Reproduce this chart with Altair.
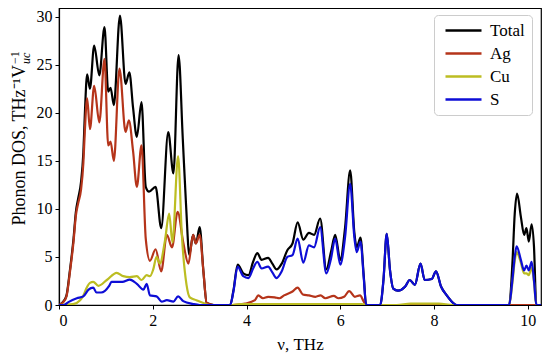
import altair as alt
import pandas as pd

# ---------------- data ----------------
series_names = ["Total", "Ag", "Cu", "S"]
series_colors = ["#000000", "#b5341a", "#bcbd22", "#0d0dd6"]

total_freq = [0, 0.09, 0.16, 0.23, 0.31, 0.36, 0.41, 0.47, 0.52, 0.55, 0.60, 0.66, 0.75, 0.86, 0.97,
              1.05, 1.10, 1.17, 1.30, 1.42, 1.50, 1.58, 1.66, 1.76, 1.85, 1.92, 2.06, 2.18, 2.33, 2.44,
              2.55, 2.64, 2.71, 2.78, 2.86, 2.92, 3.00, 3.08, 3.15, 3.30, 3.65, 3.72, 3.81, 3.93, 4.04,
              4.14, 4.23, 4.32, 4.46, 4.55, 4.64, 4.75, 4.87, 4.98, 5.09, 5.21, 5.33, 5.44, 5.57, 5.70,
              5.80, 5.89, 6.00, 6.10, 6.21, 6.30, 6.35, 6.43, 6.50, 6.55, 6.85, 6.92, 6.99, 7.06, 7.13,
              7.23, 7.38, 7.48, 7.59, 7.71, 7.80, 7.95, 8.04, 8.15, 8.27, 8.41, 8.48, 9.60, 9.67, 9.72,
              9.77, 9.85, 9.92, 9.97, 10.02, 10.08, 10.13, 10.18, 10.28]
total_dos = [0, 0.35, 1.0, 3.5, 6.9, 9.7, 11.1, 12.8, 15.9, 19.7, 24.0, 22.5, 27.0, 23.9, 28.9,
             22.2, 22.6, 20.8, 30.1, 23.0, 24.2, 20.5, 17.5, 21.1, 12.3, 11.8, 12.3, 8.0, 18.0, 13.7,
             26.0, 17.3, 10.4, 5.2, 7.3, 6.4, 8.1, 3.5, 0.2, 0, 0, 1.5, 4.2, 3.3, 3.1,
             4.5, 5.4, 4.7, 4.9, 4.3, 3.7, 4.3, 5.7, 6.4, 8.6, 6.8, 7.5, 7.3, 9.0, 3.7,
             5.5, 7.3, 4.7, 8.0, 14.0, 7.5, 6.0, 7.0, 3.0, 0, 0, 2.6, 7.4, 3.6, 1.7,
             1.5, 1.9, 2.6, 2.1, 4.3, 2.6, 2.7, 3.5, 1.9, 1.0, 0.2, 0, 0, 4.3, 9.5,
             11.6, 9.2, 7.3, 8.0, 6.6, 8.4, 6.1, 0, 0]

ag_freq = [0, 0.09, 0.16, 0.23, 0.31, 0.36, 0.41, 0.47, 0.52, 0.55, 0.60, 0.66, 0.75, 0.86, 0.97,
           1.05, 1.10, 1.17, 1.29, 1.42, 1.49, 1.58, 1.66, 1.76, 1.85, 1.94, 2.06, 2.18, 2.30, 2.41,
           2.53, 2.65, 2.76, 2.86, 2.92, 3.00, 3.08, 3.15, 3.30, 3.70, 3.97, 4.18, 4.25, 4.35, 4.46,
           4.60, 4.70, 4.80, 4.98, 5.09, 5.20, 5.33, 5.47, 5.58, 5.68, 5.86, 5.96, 6.08, 6.19, 6.31,
           6.42, 6.50, 6.55, 10.28]
ag_dos = [0, 0.3, 0.9, 3.3, 6.6, 9.3, 10.6, 12.0, 14.8, 18.0, 21.5, 18.3, 22.8, 19.0, 25.6,
          16.6, 17.0, 15.0, 24.6, 18.0, 19.2, 16.0, 12.3, 16.6, 6.9, 4.6, 5.8, 3.5, 7.3, 6.0,
          9.7, 6.5, 4.3, 7.3, 6.4, 7.3, 3.5, 0.2, 0, 0, 0.15, 0.5, 1.0, 0.7, 0.85,
          0.8, 0.7, 1.0, 1.4, 1.8, 1.1, 1.0, 0.85, 1.0, 0.7, 0.95, 0.7, 0.85, 1.45, 0.85,
          1.0, 0.35, 0, 0]

cu_freq = [0, 0.30, 0.45, 0.52, 0.59, 0.66, 0.73, 0.84, 1.02, 1.23, 1.37, 1.51, 1.66, 1.76, 1.87,
           1.94, 2.01, 2.08, 2.15, 2.26, 2.35, 2.42, 2.54, 2.62, 2.72, 2.79, 2.93, 3.08, 3.20, 3.70,
           3.85, 6.45, 6.60, 7.20, 7.50, 8.10, 8.40, 9.60, 9.67, 9.72, 9.76, 9.85, 9.92, 9.97, 10.02,
           10.08, 10.13, 10.18, 10.28]
cu_dos = [0, 0.1, 0.5, 1.0, 1.8, 2.3, 2.4, 2.0, 2.6, 3.35, 3.0, 2.9, 3.0, 2.6, 3.1,
          3.0, 3.7, 5.0, 4.3, 6.7, 9.5, 6.5, 15.5, 7.3, 2.1, 0.8, 0.5, 0.2, 0, 0,
          0.1, 0.1, 0, 0, 0.15, 0.15, 0, 0, 2.3, 4.6, 5.5, 4.4, 3.3, 3.3, 3.1,
          3.9, 2.4, 0, 0]

s_freq = [0, 0.10, 0.20, 0.38, 0.52, 0.63, 0.73, 0.80, 0.90, 1.07, 1.12, 1.23, 1.35, 1.51, 1.66,
          1.80, 1.87, 1.94, 2.08, 2.19, 2.30, 2.44, 2.54, 2.65, 2.86, 3.00, 3.65, 3.72, 3.81, 3.93,
          4.04, 4.14, 4.23, 4.32, 4.46, 4.55, 4.64, 4.75, 4.87, 4.98, 5.09, 5.21, 5.33, 5.44, 5.57,
          5.70, 5.80, 5.89, 6.00, 6.10, 6.21, 6.30, 6.35, 6.43, 6.50, 6.55, 6.85, 6.92, 6.99, 7.06,
          7.13, 7.23, 7.38, 7.48, 7.59, 7.71, 7.80, 7.95, 8.04, 8.15, 8.27, 8.41, 8.48, 9.60, 9.67,
          9.72, 9.76, 9.85, 9.92, 9.97, 10.02, 10.08, 10.13, 10.18, 10.28]
s_dos = [0, 0, 0.3, 0.7, 0.9, 1.6, 1.8, 1.3, 1.3, 2.0, 2.4, 2.4, 2.4, 2.65, 2.2,
         1.6, 2.2, 1.0, 0.9, 0.35, 0.5, 0.35, 0.9, 0.4, 0.1, 0, 0, 1.4, 4.0, 3.0,
         2.8, 3.8, 4.5, 3.8, 4.0, 3.4, 2.8, 3.5, 5.0, 5.2, 6.9, 4.4, 6.2, 6.0, 8.1,
         3.3, 4.8, 6.9, 4.2, 7.0, 12.6, 7.0, 5.5, 6.6, 2.8, 0, 0, 2.6, 7.4, 3.6,
         1.7, 1.5, 1.9, 2.6, 2.1, 4.3, 2.6, 2.7, 3.5, 1.9, 1.0, 0.2, 0, 0, 2.6,
         5.0, 6.1, 4.7, 3.6, 4.1, 3.6, 4.5, 2.6, 0, 0]

x_ticks = [0, 2, 4, 6, 8, 10]
y_ticks = [0, 5, 10, 15, 20, 25, 30]

FONT = "Liberation Serif"


def frame(name, f, v):
    return pd.DataFrame({"freq": f, "dos": v, "series": name})


frames = [frame("Total", total_freq, total_dos), frame("Ag", ag_freq, ag_dos),
          frame("Cu", cu_freq, cu_dos), frame("S", s_freq, s_dos)]

color = alt.Color(
    "series:N",
    scale=alt.Scale(domain=series_names, range=series_colors),
    legend=alt.Legend(
        title=None, orient="none", legendX=375, legendY=7,
        symbolType="M-3,0H3", symbolSize=144, symbolStrokeWidth=2.5,
        symbolFillColor="transparent", symbolOffset=14,
        labelFont=FONT, labelFontSize=17, labelColor="black", labelOffset=18,
        rowPadding=5, padding=7, fillColor="white", strokeColor="#cccccc",
        cornerRadius=4,
    ),
)

x = alt.X("freq:Q", scale=alt.Scale(domain=[0, 10.28], nice=False, zero=False),
          axis=alt.Axis(values=x_ticks, title="ν, THz", format="d"))
y = alt.Y("dos:Q", scale=alt.Scale(domain=[0, 30.9], nice=False),
          axis=alt.Axis(values=y_ticks, title=None, format="d"))

lines = [
    alt.Chart(df).mark_line(interpolate="monotone", strokeWidth=2.2, clip=True)
    .encode(x=x, y=y, color=color)
    for df in frames
]

ytitle_main = alt.Chart(pd.DataFrame({"t": ["Phonon DOS, THz⁻¹V"]})).mark_text(
    angle=270, align="right", baseline="middle", font=FONT, fontSize=18, color="black"
).encode(x=alt.value(-39), y=alt.value(57), text="t:N")
ytitle_sup = alt.Chart(pd.DataFrame({"t": ["−1"]})).mark_text(
    angle=270, align="left", baseline="middle", font=FONT, fontSize=12, color="black"
).encode(x=alt.value(-44), y=alt.value(56), text="t:N")
ytitle_sub = alt.Chart(pd.DataFrame({"t": ["uc"]})).mark_text(
    angle=270, align="left", baseline="middle", font=FONT, fontSize=12, fontStyle="italic",
    color="black"
).encode(x=alt.value(-33), y=alt.value(56), text="t:N")

chart = alt.layer(*lines, ytitle_main, ytitle_sup, ytitle_sub).properties(
    width=482, height=297,
    autosize=alt.AutoSizeParams(type="none"),
    padding={"left": 51, "top": 0, "right": 1, "bottom": 54},
).configure_view(
    stroke="black", strokeWidth=1.2
).configure_axis(
    grid=False, domainColor="black", domainWidth=1.2, tickColor="black", tickSize=4,
    labelFont=FONT, labelFontSize=16, labelColor="black", labelPadding=3,
    titleFont=FONT, titleFontSize=17, titleFontWeight="normal", titleColor="black",
    titlePadding=8,
)

chart.save("out.html", embed_options={"renderer": "svg", "actions": False})
